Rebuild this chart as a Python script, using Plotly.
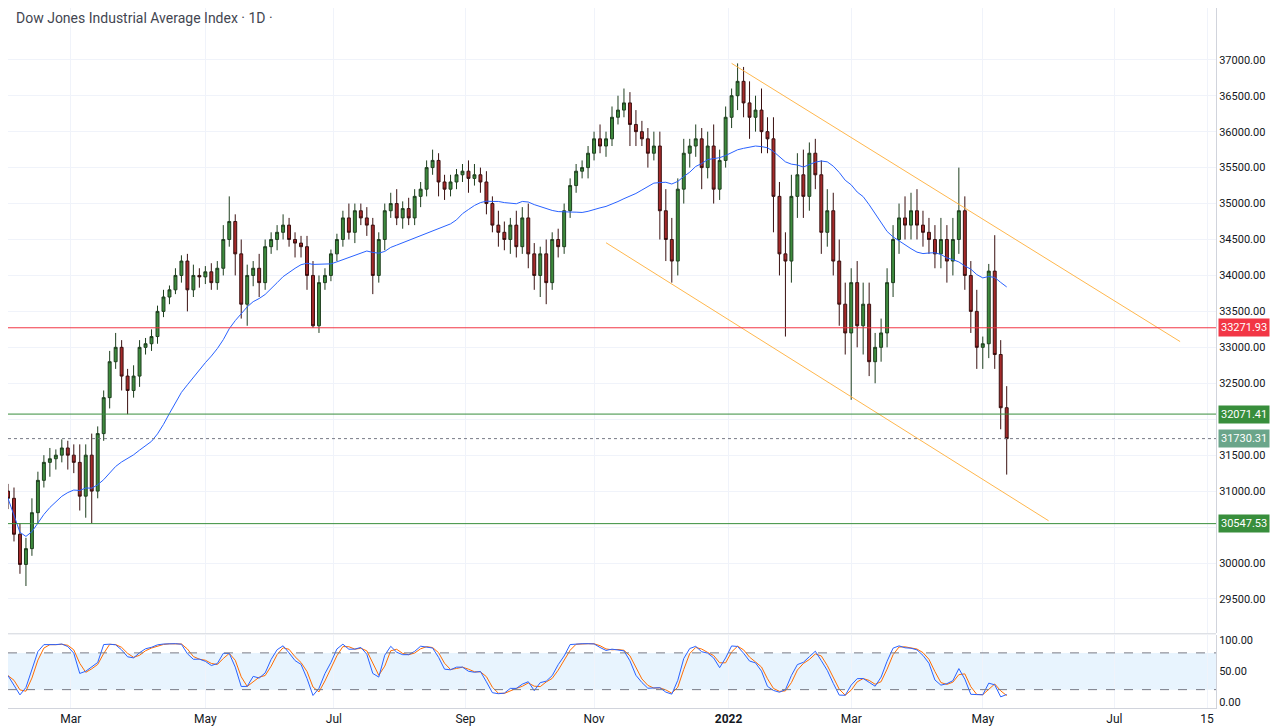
import pandas as pd
import plotly.graph_objects as go

# closes every second trading day, late Jan 2021 .. 12 May 2022
closes = [
    30900, 30400, 29980,
    30200, 30700, 31150, 31400, 31450, 31500, 31600, 31500, 31400, 30930,
    31500, 31000, 31800, 32300, 32800, 33000, 32600, 32400, 32600, 33000, 33050,
    33150, 33500, 33700, 33800, 34000, 34200, 33800, 34000, 33980, 34050, 33900,
    34100, 34500, 34750, 34300, 33600, 34000, 34100, 33900, 34400, 34500,
    34600, 34700, 34500, 34450, 34400, 34000, 33300, 33900, 34000, 34300, 34500,
    34800, 34600, 34900, 34800, 34700, 34000, 34500, 34900, 35000, 34800, 34930,
    34800, 35100, 35200, 35500, 35600, 35300, 35200, 35300, 35400, 35450, 35350,
    35400, 35300, 35000, 34700, 34600, 34500, 34700, 34400, 34800, 34300, 34000,
    34300, 33900, 34500, 34400, 34900, 35250, 35450, 35500, 35700, 35900, 35800,
    35900, 36200, 36300, 36400, 36100, 36000, 35900, 35700, 35800, 34900, 34500,
    34200, 35200, 35700, 35800, 35900, 35500, 35800, 35200, 35600, 36200, 36500,
    36700, 36400, 36200, 36300, 36000, 35900, 35100, 34300, 34200, 35100,
    35400, 35100, 35700, 35400, 34600, 34900, 34200, 33600, 33200, 33900,
    33300, 33600, 32800, 33000, 33200, 33900, 34500, 34800, 34700, 34900, 34700,
    34600, 34500, 34300, 34500, 34200, 34500, 34900, 34000, 33500, 33000,
    33050, 34060, 32900, 32160, 31730,
]
upper_wick = [
    100, 150, 150,
    150, 200, 120, 100, 150, 80, 120, 100, 150, 250,
    150, 300, 100, 100, 150, 200, 100, 100, 150, 100, 80,
    100, 80, 100, 60, 100, 80, 100, 150, 100, 80, 120,
    100, 200, 350, 100, 200, 150, 100, 200, 100, 100,
    100, 150, 100, 100, 100, 150, 200, 100, 100, 60, 80,
    100, 200, 100, 100, 150, 100, 100, 100, 150, 200, 100,
    150, 100, 100, 100, 150, 100, 100, 100, 80, 100, 150,
    150, 100, 150, 100, 200, 150, 100, 200, 150, 200, 150,
    100, 200, 100, 150, 100, 100, 100, 100, 100, 100, 200,
    100, 150, 200, 200, 150, 200, 150, 150, 200, 200, 300,
    300, 150, 200, 100, 200, 150, 200, 300, 150, 150, 100,
    250, 200, 300, 200, 300, 200, 300, 200, 300, 300,
    300, 350, 150, 200, 200, 300, 250, 300, 300, 200,
    300, 300, 300, 200, 200, 200, 200, 200, 300, 250, 300,
    200, 200, 200, 300, 200, 300, 600, 200, 200, 300,
    100, 100, 500, 200, 300,
]
lower_wick = [
    150, 100, 130,
    300, 100, 150, 100, 200, 150, 100, 200, 150, 200,
    300, 450, 100, 100, 150, 100, 200, 330, 100, 150, 100,
    100, 100, 80, 100, 60, 100, 300, 100, 150, 100, 100,
    100, 100, 100, 300, 200, 300, 150, 200, 100, 100,
    150, 100, 100, 200, 150, 200, 30, 100, 100, 80, 100,
    100, 100, 150, 100, 150, 260, 100, 150, 100, 100, 150,
    100, 100, 150, 100, 100, 200, 150, 100, 100, 100, 200,
    100, 150, 150, 100, 200, 150, 200, 150, 100, 200, 200,
    300, 300, 100, 150, 100, 100, 100, 100, 150, 100, 100,
    150, 100, 100, 100, 300, 200, 100, 200, 100, 400, 300,
    300, 200, 200, 200, 150, 300, 150, 200, 150, 100, 150,
    200, 200, 300, 200, 300, 200, 500, 300, 1050, 300,
    300, 300, 200, 200, 300, 200, 200, 300, 300, 930,
    300, 400, 200, 300, 200, 200, 200, 200, 200, 200, 200,
    200, 200, 200, 200, 300, 200, 200, 200, 300, 300,
    300, 200, 200, 300, 500,
]

levels = [(33271.93, "#f23645"), (32071.41, "#388e3c"), (30547.53, "#388e3c")]
last_price = 31730.31
price_ticks = [29500 + 500 * i for i in range(16)]

n = len(closes)
bdays = pd.bdate_range("2021-01-04", "2022-05-12")
dates = list(bdays[::-1][::2][:n][::-1])

opens = [closes[0] + 100] + closes[:-1]
highs = [max(o, c) + u for o, c, u in zip(opens, closes, upper_wick)]
lows = [min(o, c) - d for o, c, d in zip(opens, closes, lower_wick)]

df = pd.DataFrame({"d": dates, "o": opens, "h": highs, "l": lows, "c": closes})
df["ma"] = df["c"].rolling(25, min_periods=1).mean()
lo7 = df["l"].rolling(7, min_periods=1).min()
hi7 = df["h"].rolling(7, min_periods=1).max()
raw = (df["c"] - lo7) / (hi7 - lo7) * 100
df["k"] = raw.rolling(2, min_periods=1).mean()
df["dd"] = df["k"].rolling(2, min_periods=1).mean()

fig = go.Figure()
fig.add_trace(go.Candlestick(
    x=df["d"], open=df["o"], high=df["h"], low=df["l"], close=df["c"],
    increasing=dict(line=dict(color="#1f3f1f", width=1), fillcolor="#3d8b3d"),
    decreasing=dict(line=dict(color="#3a1010", width=1), fillcolor="#a52a2a"),
    showlegend=False, yaxis="y"))
fig.add_trace(go.Scatter(x=df["d"], y=df["ma"], mode="lines",
                         line=dict(color="#2962ff", width=1), showlegend=False))

# channel
fig.add_trace(go.Scatter(x=["2022-01-04", "2022-08-02"], y=[36950, 33080], mode="lines",
                         line=dict(color="#ffb74d", width=1), showlegend=False))
fig.add_trace(go.Scatter(x=["2021-11-05", "2022-06-01"], y=[34455, 30588], mode="lines",
                         line=dict(color="#ffb74d", width=1), showlegend=False))

# stochastic
fig.add_trace(go.Scatter(x=df["d"], y=df["dd"], mode="lines", yaxis="y2",
                         line=dict(color="#ff6d00", width=1), showlegend=False))
fig.add_trace(go.Scatter(x=df["d"], y=df["k"], mode="lines", yaxis="y2",
                         line=dict(color="#2962ff", width=1), showlegend=False))

x0, x1 = "2021-01-29", "2022-08-18"
shapes = [
    dict(type="rect", xref="paper", yref="y2", x0=0, x1=1, y0=20, y1=80,
         fillcolor="rgba(33,150,243,0.1)", line=dict(width=0), layer="below"),
    dict(type="line", xref="paper", yref="y2", x0=0, x1=1, y0=80, y1=80,
         line=dict(color="#787b86", width=1, dash="dash")),
    dict(type="line", xref="paper", yref="y2", x0=0, x1=1, y0=20, y1=20,
         line=dict(color="#787b86", width=1, dash="dash")),
    dict(type="line", xref="paper", yref="paper", x0=0, x1=1, y0=0.106, y1=0.106,
         line=dict(color="#d1d4dc", width=1)),
    dict(type="line", xref="paper", yref="y", x0=0, x1=1, y0=last_price, y1=last_price,
         line=dict(color="#787b86", width=1, dash="dot")),
]
annotations = []
for val, col in levels:
    shapes.append(dict(type="line", xref="paper", yref="y", x0=0, x1=1, y0=val, y1=val,
                       line=dict(color=col, width=1)))
    annotations.append(dict(xref="paper", yref="y", x=1.002, y=val, xanchor="left",
                            text=f"{val:.2f}", showarrow=False, bgcolor=col,
                            font=dict(color="white", size=11, family="Roboto"), borderpad=2))
annotations.append(dict(xref="paper", yref="y", x=1.002, y=last_price, xanchor="left",
                        text=f"{last_price:.2f}", showarrow=False, bgcolor="#6aa58a",
                        font=dict(color="white", size=11, family="Roboto"), borderpad=2))
annotations.append(dict(xref="paper", yref="paper", x=0.005, y=1.0, xanchor="left",
                        yanchor="top", showarrow=False,
                        text="Dow Jones Industrial Average Index · 1D ·",
                        font=dict(color="#434651", size=14, family="Roboto")))

tickvals = ["2021-03-01", "2021-05-03", "2021-07-01", "2021-09-01", "2021-11-01",
            "2022-01-03", "2022-03-01", "2022-05-02", "2022-07-01", "2022-08-15"]
ticktext = ["Mar", "May", "Jul", "Sep", "Nov", "<b>2022</b>", "Mar", "May", "Jul", "15"]

fig.update_layout(
    width=1280, height=728, margin=dict(l=0, r=72, t=0, b=28),
    plot_bgcolor="white", paper_bgcolor="white",
    font=dict(family="Roboto", color="#131722", size=12),
    shapes=shapes, annotations=annotations,
    xaxis=dict(range=[x0, x1], rangeslider=dict(visible=False), anchor="y2",
               rangebreaks=[dict(bounds=["sat", "mon"])],
               tickvals=tickvals, ticktext=ticktext, showgrid=True,
               gridcolor="#f0f3fa", ticks="", showline=True, linecolor="#d1d4dc"),
    yaxis=dict(domain=[0.107, 1], range=[29025, 37720], side="right",
               tickvals=price_ticks, tickformat=".2f", gridcolor="#f0f3fa",
               showline=True, linecolor="#d1d4dc", ticks="", zeroline=False,
               tickfont=dict(size=11)),
    yaxis2=dict(domain=[0, 0.105], range=[-10, 110], side="right",
                tickvals=[0, 50, 100], tickformat=".2f", showgrid=False,
                showline=True, linecolor="#d1d4dc", zeroline=False,
                tickfont=dict(size=11)),
)
fig.write_html("out.html")
